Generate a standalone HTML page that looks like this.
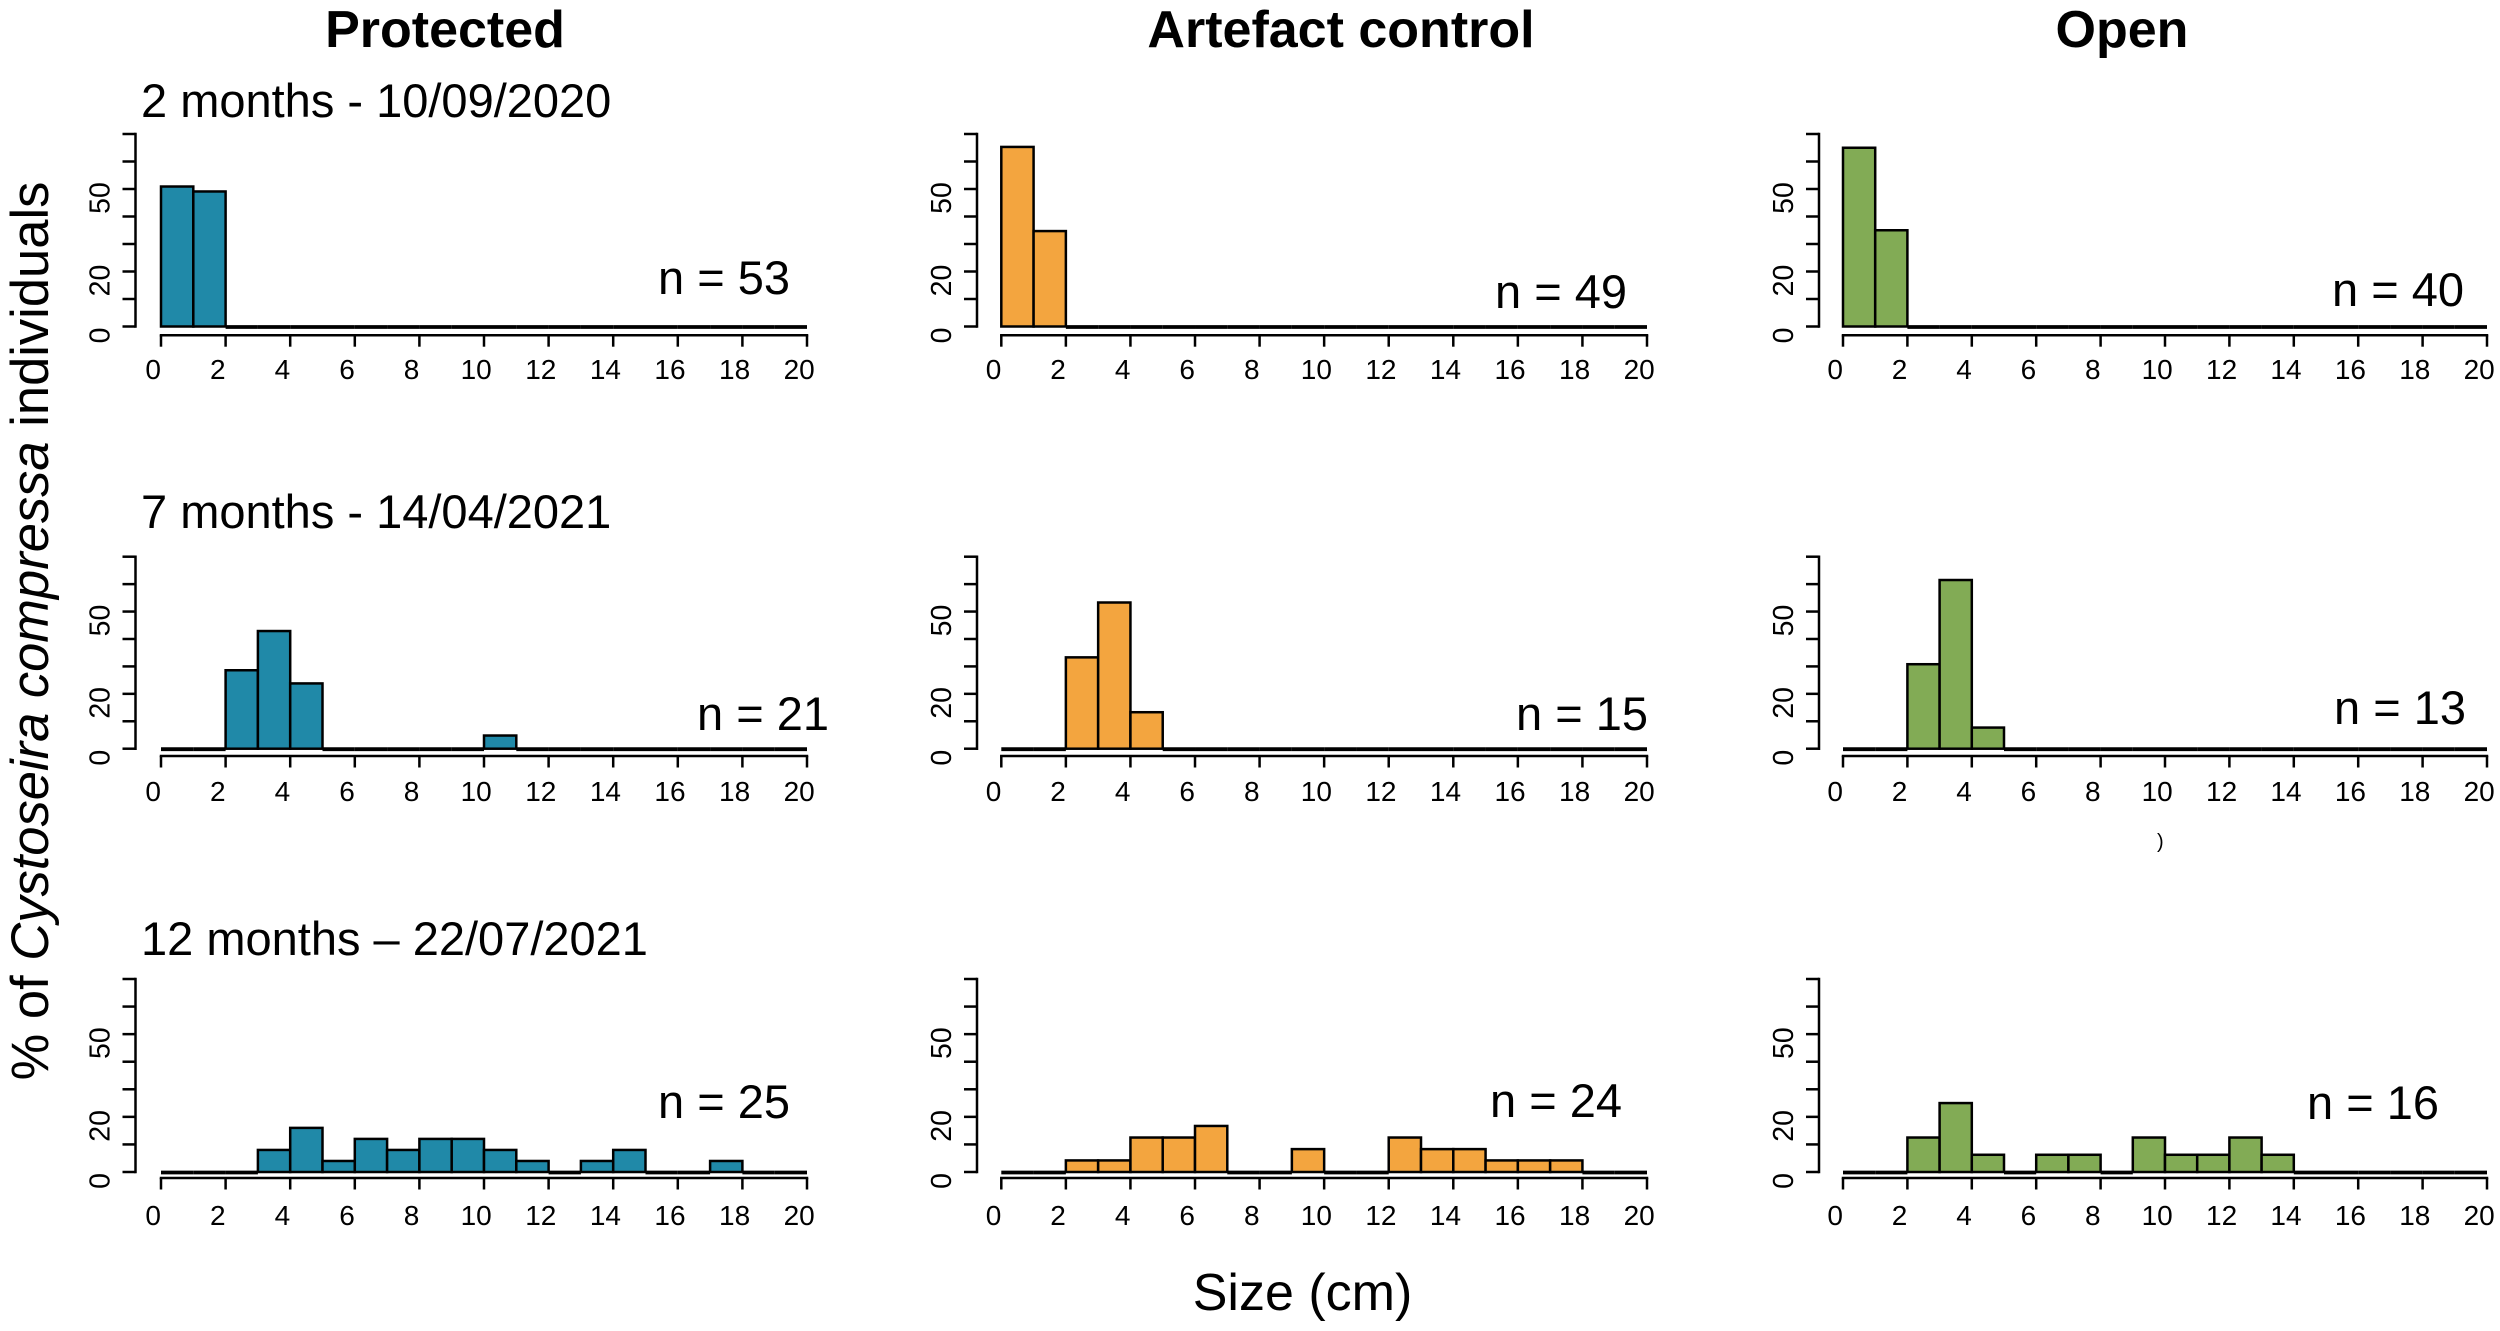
<!DOCTYPE html>
<html lang="en">
<head>
<meta charset="utf-8">
<title>Cystoseira compressa size distributions</title>
<style>
  html, body { margin: 0; padding: 0; background: #fff; }
  svg { display: block; font-family: "Liberation Sans", Arial, sans-serif; }
</style>
</head>
<body>
<svg id="chart" xmlns="http://www.w3.org/2000/svg" width="2500" height="1331" viewBox="0 0 2500 1331">
  <rect width="2500" height="1331" fill="#ffffff"/>
  <text x="445" y="47" font-size="52" font-weight="700" text-anchor="middle">Protected</text>
  <text x="1341" y="47" font-size="52" font-weight="700" text-anchor="middle">Artefact control</text>
  <text x="2122" y="47" font-size="52" font-weight="700" text-anchor="middle">Open</text>
  <text x="141" y="117" font-size="47">2 months - 10/09/2020</text>
  <text x="141" y="528" font-size="47">7 months - 14/04/2021</text>
  <text x="141" y="955" font-size="47">12 months – 22/07/2021</text>
  <text transform="translate(48,631) rotate(-90)" font-size="52.5" text-anchor="middle">% of <tspan font-style="italic">Cystoseira compressa</tspan> individuals</text>
  <text x="1302.5" y="1310" font-size="52" text-anchor="middle">Size (cm)</text>
  <text x="2157" y="848" font-size="20">)</text>
  <g id="panels"></g>
</svg>
<script>
// Percent of individuals per 1 cm size bin (0-1, 1-2, ... 19-20)
const protected2m = [50.9,49.1,0,0,0,0,0,0,0,0,0,0,0,0,0,0,0,0,0,0];
const artefact2m  = [65.3,34.7,0,0,0,0,0,0,0,0,0,0,0,0,0,0,0,0,0,0];
const open2m      = [65,35,0,0,0,0,0,0,0,0,0,0,0,0,0,0,0,0,0,0];
const protected7m = [0,0,28.6,42.9,23.8,0,0,0,0,0,4.8,0,0,0,0,0,0,0,0,0];
const artefact7m  = [0,0,33.3,53.3,13.3,0,0,0,0,0,0,0,0,0,0,0,0,0,0,0];
const open7m      = [0,0,30.8,61.5,7.7,0,0,0,0,0,0,0,0,0,0,0,0,0,0,0];
const protected12m = [0,0,0,8,16,4,12,8,12,12,8,4,0,4,8,0,0,4,0,0];
const artefact12m  = [0,0,4.2,4.2,12.5,12.5,16.7,0,0,8.3,0,0,12.5,8.3,8.3,4.2,4.2,4.2,0,0];
const open12m      = [0,0,12.5,25,6.25,0,6.25,6.25,0,12.5,6.25,6.25,12.5,6.25,0,0,0,0,0,0];

const sampleSizes = [[53,49,40],[21,15,13],[25,24,16]];
const xTickValues = [0,2,4,6,8,10,12,14,16,18,20];
const yTickValues = [0,10,20,30,40,50,60,70];
const yTickLabels = [0,20,50];

const seriesGrid = [
  [protected2m, artefact2m, open2m],
  [protected7m, artefact7m, open7m],
  [protected12m, artefact12m, open12m]
];

const columnNames = ['protected','artefact-control','open'];
const rowNames = ['2-months','7-months','12-months'];
const fills = ['#2089A8','#F3A53F','#82AB55'];

// Layout (not data)
const cols = [
  {x0:161, x20:807, yAxis:135.5},
  {x0:1001.3, x20:1647, yAxis:977},
  {x0:1843, x20:2487, yAxis:1819}
];
const rows = [
  {zero:326.5, top:134, axis:335.2, label:379},
  {zero:748.7, top:556.7, axis:756, label:801},
  {zero:1172, top:979, axis:1178, label:1225}
];
const nPos = [
  [[658,294],[1495,308],[2332,306]],
  [[697,730],[1516,730],[2334,724]],
  [[658,1118],[1490,1117],[2307,1119]]
];

const NS = 'http://www.w3.org/2000/svg';
const root = document.getElementById('panels');

function mk(parent, tag, attrs, text) {
  const node = document.createElementNS(NS, tag);
  for (const k in attrs) node.setAttribute(k, attrs[k]);
  if (text !== undefined) node.textContent = text;
  parent.appendChild(node);
  return node;
}
function xScale(c, v) { return c.x0 + (c.x20 - c.x0) * v / 20; }
function yScale(r, v) { return r.zero - (r.zero - r.top) * v / 70; }

const LW = 2.5;

seriesGrid.forEach(function (rowSeries, ri) {
  const r = rows[ri];
  rowSeries.forEach(function (values, ci) {
    const c = cols[ci];
    const g = mk(root, 'g', {});
    
    

    // Bars
    values.forEach(function (v, i) {
      const xa = xScale(c, i), xb = xScale(c, i + 1);
      if (v > 0) {
        const y = yScale(r, v);
        const bar = mk(g, 'rect', {x: xa, y: y, width: xb - xa, height: r.zero - y, fill: fills[ci], stroke: '#000', 'stroke-width': LW});
        
        
      } else {
        const flat = mk(g, 'line', {x1: xa, x2: xb, y1: r.zero + 0.5, y2: r.zero + 0.5, stroke: '#000', 'stroke-width': 3.8});
        
        
      }
    });

    // Y axis
    const yLine = mk(g, 'line', {x1: c.yAxis, x2: c.yAxis, y1: yScale(r, 70), y2: yScale(r, 0), stroke: '#000', 'stroke-width': LW, 'stroke-linecap': 'square'});
    
    
    yTickValues.forEach(function (t) {
      const tick = mk(g, 'line', {x1: c.yAxis - 13, x2: c.yAxis, y1: yScale(r, t), y2: yScale(r, t), stroke: '#000', 'stroke-width': LW});
      
      
    });
    yTickLabels.forEach(function (t) {
      const ly = yScale(r, t) + 9;
      const lab = mk(g, 'text', {transform: 'translate(' + (c.yAxis - 26) + ',' + ly + ') rotate(-90)', 'font-size': 28.5, 'text-anchor': 'middle'}, String(t));
      
      
    });

    // X axis
    const xLine = mk(g, 'line', {x1: xScale(c, 0), x2: xScale(c, 20), y1: r.axis, y2: r.axis, stroke: '#000', 'stroke-width': LW, 'stroke-linecap': 'square'});
    
    
    xTickValues.forEach(function (t) {
      const tick = mk(g, 'line', {x1: xScale(c, t), x2: xScale(c, t), y1: r.axis, y2: r.axis + 11.5, stroke: '#000', 'stroke-width': LW});
      
      
      const lab = mk(g, 'text', {x: xScale(c, t) - 7.8, y: r.label, 'font-size': 28, 'text-anchor': 'middle'}, String(t));
      
      
    });

    // Sample size annotation
    const p = nPos[ri][ci];
    const nLabel = mk(g, 'text', {x: p[0], y: p[1], 'font-size': 47}, 'n = ' + sampleSizes[ri][ci]);
    
    
  });
});
</script>
</body>
</html>
